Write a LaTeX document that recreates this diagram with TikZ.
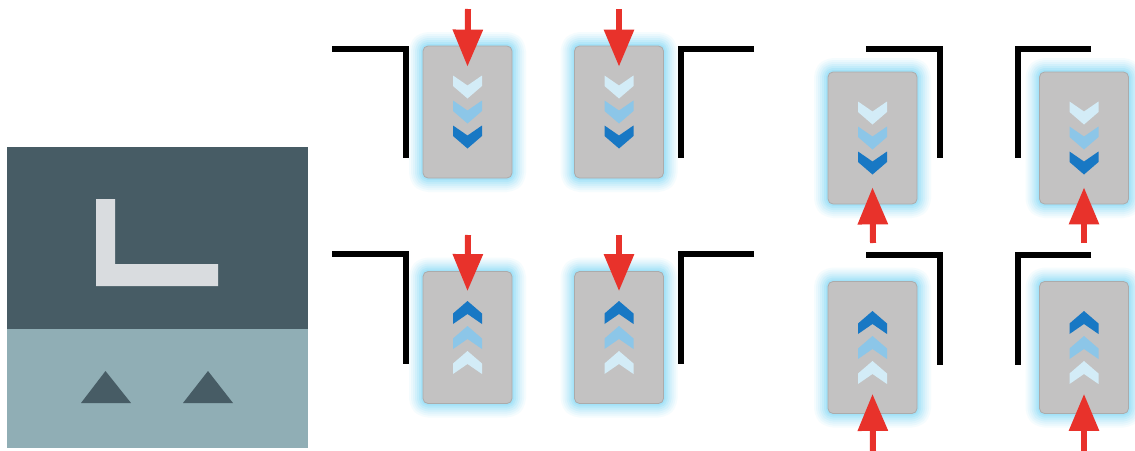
\documentclass[tikz,border=0pt]{standalone}
\usetikzlibrary{arrows.meta,calc}
\definecolor{paneldark}{HTML}{475C65}
\definecolor{panellight}{HTML}{90AEB5}
\definecolor{lglyph}{HTML}{D9DCDF}
\definecolor{cardgray}{HTML}{C3C2C2}
\definecolor{cardedge}{HTML}{ABABAB}
\definecolor{glow}{HTML}{5FD0F5}
\definecolor{chevlight}{HTML}{D3ECF7}
\definecolor{chevmid}{HTML}{8CC6E8}
\definecolor{chevdark}{HTML}{1878C4}
\definecolor{arrowred}{HTML}{E8322B}
\tikzset{
  card/.style={rounded corners=5pt, fill=cardgray, draw=cardedge, line width=0.8pt,
    minimum width=89pt, minimum height=132pt, inner sep=0pt,
    preaction={draw=glow, draw opacity=0.06, line width=28pt, line join=round},
    preaction={draw=glow, draw opacity=0.07, line width=24pt, line join=round},
    preaction={draw=glow, draw opacity=0.08, line width=20pt, line join=round},
    preaction={draw=glow, draw opacity=0.10, line width=16pt, line join=round},
    preaction={draw=glow, draw opacity=0.12, line width=12pt, line join=round},
    preaction={draw=glow, draw opacity=0.15, line width=8pt, line join=round},
    preaction={draw=glow, draw opacity=0.18, line width=4pt, line join=round}},
  bracket/.style={draw=black, line width=6pt, line join=miter},
  redarrow/.style={draw=arrowred, line width=6pt, -{Triangle[width=29pt,length=37pt]}},
  chevdown/.pic={\path[pic actions] (-14.5,-11.5) -- (0,-1.5) -- (14.5,-11.5) -- (14.5,-1) -- (0,11.5) -- (-14.5,-1) -- cycle;},
  chevup/.pic={\path[pic actions] (-14.5,11.5) -- (0,1.5) -- (14.5,11.5) -- (14.5,1) -- (0,-11.5) -- (-14.5,1) -- cycle;}
}
\begin{document}
\begin{tikzpicture}[x=1pt,y=-1pt]
\useasboundingbox[fill=white] (0,0) rectangle (1135,450);
% left panel
\fill[paneldark] (7,147) rectangle (308,329);
\fill[panellight] (7,329) rectangle (308,448);
\fill[lglyph] (96,199) -- (115,199) -- (115,264) -- (218,264) -- (218,286) -- (96,286) -- cycle;
\fill[paneldark] (81,403) -- (105.5,371) -- (131,403) -- cycle;
\fill[paneldark] (183,403) -- (208,371) -- (233,403) -- cycle;
% brackets
\draw[bracket] (332,49) -- (406,49) -- (406,158);
\draw[bracket] (754,49) -- (681,49) -- (681,158);
\draw[bracket] (866,49) -- (939.5,49) -- (939.5,158);
\draw[bracket] (1091,49) -- (1017.5,49) -- (1017.5,158);
\draw[bracket] (332,254) -- (405.5,254) -- (405.5,364);
\draw[bracket] (754,254) -- (681,254) -- (681,364);
\draw[bracket] (866,255) -- (939.5,255) -- (939.5,365);
\draw[bracket] (1091,255) -- (1017.5,255) -- (1017.5,365);
% cards
\node[card] (c1) at (467.5,112) {};
\node[card] (c2) at (619,112) {};
\node[card] (c3) at (872.5,138) {};
\node[card] (c4) at (1084,138) {};
\node[card] (c5) at (467.5,337.5) {};
\node[card] (c6) at (619,337.5) {};
\node[card] (c7) at (872.5,347.5) {};
\node[card] (c8) at (1084,347.5) {};
% chevrons
\foreach \c in {c1,c2,c3,c4}{
  \pic[fill=chevlight] at ($(\c.center)+(0,-25)$) {chevdown};
  \pic[fill=chevmid] at ($(\c.center)+(0,0)$) {chevdown};
  \pic[fill=chevdark] at ($(\c.center)+(0,25)$) {chevdown};
}
\foreach \c in {c5,c6,c7,c8}{
  \pic[fill=chevdark] at ($(\c.center)+(0,-25)$) {chevup};
  \pic[fill=chevmid] at ($(\c.center)+(0,0)$) {chevup};
  \pic[fill=chevlight] at ($(\c.center)+(0,25)$) {chevup};
}
% red arrows
\coordinate (s1) at (468,9);
\coordinate (s2) at (619,9);
\coordinate (s3) at (873,243);
\coordinate (s4) at (1084,243);
\coordinate (s5) at (468,235);
\coordinate (s6) at (619,235);
\coordinate (s7) at (873,452);
\coordinate (s8) at (1084,452);
\draw[redarrow] (s1) -- ($(c1.north)+(0,21)$);
\draw[redarrow] (s2) -- ($(c2.north)+(0,21)$);
\draw[redarrow] (s3) -- ($(c3.south)+(0,-17)$);
\draw[redarrow] (s4) -- ($(c4.south)+(0,-17)$);
\draw[redarrow] (s5) -- ($(c5.north)+(0,20)$);
\draw[redarrow] (s6) -- ($(c6.north)+(0,20)$);
\draw[redarrow] (s7) -- ($(c7.south)+(0,-20)$);
\draw[redarrow] (s8) -- ($(c8.south)+(0,-20)$);
\end{tikzpicture}
\end{document}
